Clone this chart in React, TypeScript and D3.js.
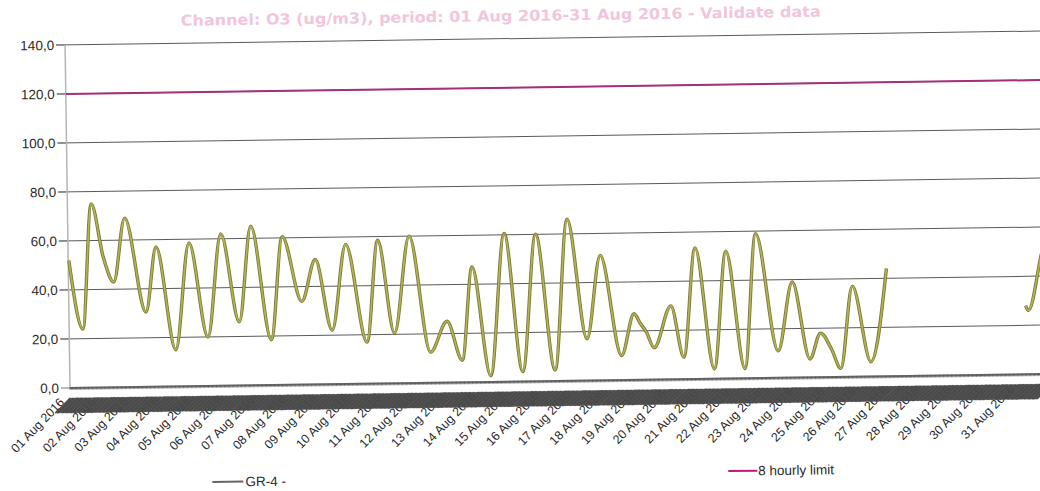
import React from 'react';
import * as d3 from 'd3';

const title = 'Channel: O3 (ug/m3), period: 01 Aug 2016-31 Aug 2016 - Validate data';

const dayLabels = [
  '01 Aug 2016', '02 Aug 2016', '03 Aug 2016', '04 Aug 2016', '05 Aug 2016', '06 Aug 2016',
  '07 Aug 2016', '08 Aug 2016', '09 Aug 2016', '10 Aug 2016', '11 Aug 2016', '12 Aug 2016',
  '13 Aug 2016', '14 Aug 2016', '15 Aug 2016', '16 Aug 2016', '17 Aug 2016', '18 Aug 2016',
  '19 Aug 2016', '20 Aug 2016', '21 Aug 2016', '22 Aug 2016', '23 Aug 2016', '24 Aug 2016',
  '25 Aug 2016', '26 Aug 2016', '27 Aug 2016', '28 Aug 2016', '29 Aug 2016', '30 Aug 2016',
  '31 Aug 2016',
];

const yTicks = [0, 20, 40, 60, 80, 100, 120, 140];

const seriesName = 'GR-4 -';
const limitName = '8 hourly limit';

const hours = [
  0.5, 10.4, 18, 26.7, 34.3, 43.2, 58.4, 66.7, 80.6, 91.7, 105.1, 115.9, 129, 138.7,
  153.1, 162.4, 176.6, 187.2, 199.3, 210.4, 225.6, 234.7, 246.5, 258.6, 273.6, 286.4,
  297.6, 305.9, 319, 330.6, 343.3, 354.4, 367.8, 378.4, 392.3, 403.2, 418.3, 428.2,
  432.9, 437.3, 443.1, 456.2, 465.5, 475.1, 488.5, 498.4, 511.7, 521.1, 537, 548.4,
  561, 569.3, 577.4, 584.3, 593.9, 607.2, 619.9,
];
const o3 = [
  52, 24, 75, 53, 43, 69, 30.5, 57, 15, 58.5, 20, 62, 26, 65,
  18.5, 60.5, 34, 51, 22, 57, 17, 58.5, 20.5, 60, 12.5, 25,
  9, 47, 2.5, 60.5, 4, 60, 4.5, 66, 17, 51, 10, 27,
  23, 19.5, 13, 30, 9, 53.5, 4, 52, 4, 59, 11, 39,
  7.5, 18, 11.5, 3.5, 37, 6, 44,
];
// last piece of data on 31 Aug
const hoursEnd = [725, 727, 738, 742];
const o3End = [28, 26, 50, 57];

const limitHours = [0, 744];
const limitValues = [120, 120];

export default function App() {
  const W = 1040, H = 491;
  const x = d3.scaleLinear().domain([0, 744]).range([68, 68 + 31 * 31.67]);
  const y = d3.scaleLinear().domain([0, 140]).range([381.5, 38.5]);
  const left = 68, right = 1070;
  const fmt = (v: number) => d3.format('.1f')(v).replace('.', ',');

  const line = d3.line<[number, number]>()
    .x(d => x(d[0]))
    .y(d => y(d[1]))
    .curve(d3.curveMonotoneX);
  const seg1 = line(hours.map((h, i) => [h, o3[i]] as [number, number])) || '';
  const seg2 = line(hoursEnd.map((h, i) => [h, o3End[i]] as [number, number])) || '';
  const limitPath = d3.line<[number, number]>()
    .x(d => x(d[0])).y(d => y(d[1]))(limitHours.map((h, i) => [h, limitValues[i]] as [number, number])) || '';

  const hourTicks = d3.range(0, 745, 1);
  const dayTicks = dayLabels.map((_, i) => i * 24);
  const axisY = y(0);

  return (
    <svg width={W} height={H} style={{ position: 'absolute', left: 0, top: 0, display: 'block', background: '#fff' }}
      fontFamily="'Liberation Sans', Arial, sans-serif">
      <g transform={`rotate(-0.82, 520, 245)`}>
        <text x={504} y={21} textAnchor="middle" fontFamily="'DejaVu Sans', Verdana, sans-serif"
          fontWeight="bold" fontSize={15} textLength={640} lengthAdjust="spacingAndGlyphs"
          fill="#f1c6dc">{title}</text>

        {/* grid + y axis */}
        {yTicks.map(t => (
          <g key={t}>
            <line x1={left - 9} x2={right} y1={y(t)} y2={y(t)} stroke={t === 0 ? 'none' : '#5a5a5a'} strokeWidth={1} />
            <line x1={left - 9} x2={left} y1={y(t)} y2={y(t)} stroke="#777" strokeWidth={1} />
            <text x={57} y={y(t)} dy="0.35em" textAnchor="end" fontSize={13.5} fill="#2a2a2a">{fmt(t)}</text>
          </g>
        ))}
        <line x1={left} x2={left} y1={y(140)} y2={axisY} stroke="#b5b5b5" strokeWidth={1.5} />

        {/* limit */}
        <path d={limitPath} fill="none" stroke="#a3307a" strokeWidth={2} />

        {/* O3 trace */}
        <path d={seg1} fill="none" stroke="#7a7b42" strokeWidth={3.4} strokeLinejoin="round" />
        <path d={seg1} fill="none" stroke="#b3b54c" strokeWidth={1.6} strokeLinejoin="round" />
        <path d={seg2} fill="none" stroke="#7a7b42" strokeWidth={3.4} strokeLinejoin="round" />
        <path d={seg2} fill="none" stroke="#b3b54c" strokeWidth={1.6} strokeLinejoin="round" />

        {/* x axis */}
        {dayTicks.map((h, i) => (
          <text key={i} transform={`translate(${x(h) - 5},${axisY + 15}) rotate(-45)`} textAnchor="end"
            fontSize={12.5} fill="#2a2a2a">{dayLabels[i]}</text>
        ))}
        {hourTicks.map(h => (
          <line key={h} x1={x(h)} x2={x(h) - 15} y1={axisY + 10} y2={axisY + 25} stroke="#4a4a4a" strokeWidth={1.4} />
        ))}
        <line x1={left} x2={right} y1={axisY} y2={axisY} stroke="#7a7a7a" strokeWidth={2} />
        {hourTicks.map(h => (
          <line key={'m' + h} x1={x(h)} x2={x(h)} y1={axisY - 1} y2={axisY + 2} stroke="#444" strokeWidth={0.6} />
        ))}

        {/* legend */}
        <line x1={209} x2={240} y1={477.6} y2={477.6} stroke="#666" strokeWidth={2} />
        <text x={242} y={477.6} dy="0.35em" fontSize={13.5} fill="#2a2a2a">{seriesName}</text>
        <line x1={725} x2={754} y1={474} y2={474} stroke="#c2187a" strokeWidth={2} />
        <text x={755} y={474} dy="0.35em" fontSize={13.5} fill="#2a2a2a">{limitName}</text>
      </g>
    </svg>
  );
}
